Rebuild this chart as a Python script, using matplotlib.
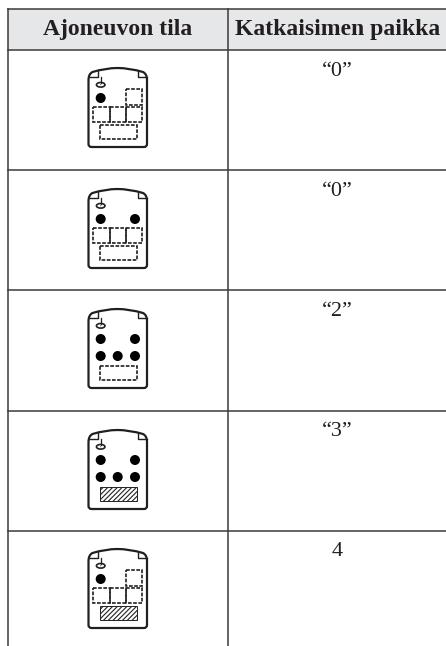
import matplotlib
matplotlib.use("Agg")
import matplotlib.pyplot as plt
from matplotlib.patches import Rectangle, Ellipse, PathPatch
from matplotlib.path import Path

headers = ["Ajoneuvon tila", "Katkaisimen paikka"]
positions = ["\u201c0\u201d", "\u201c0\u201d", "\u201c2\u201d", "\u201c3\u201d", "4"]
front_right_occupied = [False, True, True, True, False]
rear_row_occupied = [False, False, True, True, False]
cargo_loaded = [False, False, False, True, True]
icon_tops = [68, 189, 309, 430, 549]
row_lines = [49.5, 169.7, 290, 410.7, 530.7]
text_y = [71, 191, 311, 432, 551]

plt.rcParams['font.family'] = ['Liberation Serif', 'DejaVu Serif']
plt.rcParams['hatch.linewidth'] = 0.8
INK = "#231f20"
fig = plt.figure(figsize=(4.46, 6.46), dpi=100)
ax = fig.add_axes([0, 0, 1, 1])
ax.set_xlim(0, 446)
ax.set_ylim(646, 0)
ax.axis("off")

LEFT, DIV, RIGHT, TOP = 7.5, 228, 446, 8.5
ax.add_patch(Rectangle((LEFT, TOP), RIGHT - LEFT, row_lines[0] - TOP, fc="#e6e7e8", ec="none", zorder=0))
ax.plot([LEFT, RIGHT], [TOP, TOP], color="#3a3a3a", lw=1.1)
for y in row_lines:
    ax.plot([LEFT, RIGHT], [y, y], color="#3a3a3a", lw=1.1)
for x in (LEFT, DIV):
    ax.plot([x, x], [TOP, 646], color="#3a3a3a", lw=1.1)

ax.text(117.5, 29, headers[0], ha="center", va="center", fontsize=17, fontweight="bold", color=INK)
ax.text(337.5, 29, headers[1], ha="center", va="center", fontsize=17, fontweight="bold", color=INK)


def dashed(x, y, w, h):
    ax.add_patch(Rectangle((x, y), w, h, fc="none", ec=INK, lw=1.2, ls=(0, (2.2, 0.9))))


def icon(top, right, rear, cargo):
    cx = 117.5
    l, r = cx - 29, cx + 29.5
    b = top + 79
    verts = [(l, top + 12), (l, top + 6), (l + 4, top + 4), (cx - 12, top), (cx, top),
             (cx + 12, top), (r - 4, top + 4), (r, top + 6), (r, top + 12),
             (r, b - 3), (r, b), (r - 3, b), (l + 3, b), (l, b), (l, b - 3), (l, top + 12)]
    codes = [Path.MOVETO, Path.CURVE3, Path.CURVE3, Path.CURVE3, Path.CURVE3,
             Path.CURVE3, Path.CURVE3, Path.CURVE3, Path.CURVE3,
             Path.LINETO, Path.CURVE3, Path.CURVE3, Path.LINETO, Path.CURVE3, Path.CURVE3, Path.LINETO]
    ax.add_patch(PathPatch(Path(verts, codes), fc="none", ec=INK, lw=1.6))
    # corner tabs
    ax.plot([l, l + 9.5, l + 9.5], [top + 9, top + 9, top + 3], color=INK, lw=1.0)
    ax.plot([r, r - 9.5, r - 9.5], [top + 9, top + 9, top + 3], color=INK, lw=1.0)
    # driver seat marker
    ox = 100.7
    ax.plot([ox, ox], [top + 9, top + 14.5], color=INK, lw=0.9)
    ax.add_patch(Ellipse((ox, top + 16.8), 8.5, 4.6, fc="white", ec=INK, lw=1.2))
    ax.add_patch(Ellipse((ox, top + 16.8), 1.0, 1.0, fc=INK, ec="none"))
    # driver
    seats = [(ox, top + 30)]
    if right:
        seats.append((135, top + 30))
    else:
        dashed(125.7, top + 21, 16.6, 15.5)
    if rear:
        seats += [(ox, top + 47), (117.7, top + 47), (135, top + 47)]
    else:
        dashed(93.3, top + 38.5, 16.3, 15.5)
        dashed(109.6, top + 38.5, 16.3, 15.5)
        dashed(125.9, top + 38.5, 16.4, 15.5)
    for sx, sy in seats:
        ax.add_patch(Ellipse((sx, sy), 10, 10, fc="#000000", ec="none"))
    if cargo:
        ax.add_patch(Rectangle((99.7, top + 56.5), 37, 14.5, fc="white", ec="#222222", lw=0.7, hatch="///////"))
    else:
        dashed(99.7, top + 56.5, 37, 14.5)


for i in range(len(positions)):
    icon(icon_tops[i], front_right_occupied[i], rear_row_occupied[i], cargo_loaded[i])
    ax.text(337, text_y[i], positions[i], ha="center", va="center", fontsize=16, color=INK)

fig.savefig("out.png", dpi=100)
